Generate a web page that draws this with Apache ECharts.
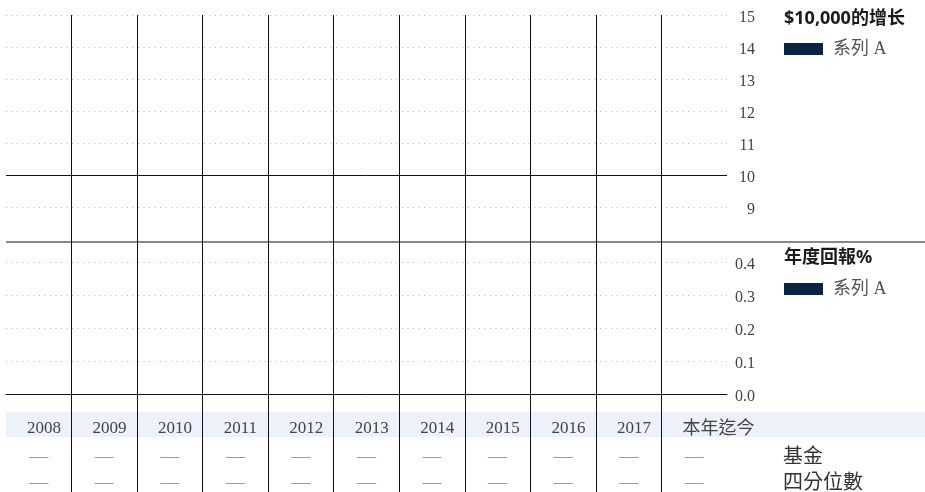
<!DOCTYPE html>
<html>
<head>
<meta charset="utf-8">
<title>$10,000的增长 / 年度回報%</title>
<script src="https://cdn.jsdelivr.net/npm/echarts@6/dist/echarts.min.js"></script>
<style>
  html, body { margin: 0; padding: 0; background: #ffffff; }
  #chart { width: 925px; height: 492px; }
</style>
</head>
<body>
<div id="chart"></div>
<script>
// Column categories shared by both panels and the table below them
const categories = ['2008', '2009', '2010', '2011', '2012', '2013', '2014', '2015', '2016', '2017', '本年迄今'];

// Growth of $10,000 (thousands) — no values reported yet
const growthOf10k = [null, null, null, null, null, null, null, null, null, null, null];

// Annual return — no values reported yet
const annualReturns = [null, null, null, null, null, null, null, null, null, null, null];

// Table rows under the chart
const fundRow = ['—', '—', '—', '—', '—', '—', '—', '—', '—', '—', '—'];
const quartileRow = ['—', '—', '—', '—', '—', '—', '—', '—', '—', '—', '—'];
const rowTitles = ['基金', '四分位數'];

// Value axis ranges and steps
const growthRange = [8, 15];
const growthStep = 1;
const returnRange = [0, 0.4];
const returnStep = 0.1;

const seriesName = '系列 A';
const panelTitles = ['$10,000的增长', '年度回報%'];

const NAVY = '#0b2446';
const SERIF = '"Liberation Serif", "Noto Sans CJK TC", serif';
const SANS = '"Noto Sans", "Noto Sans CJK SC", sans-serif';
const LABEL_COLOR = '#444';

const PLOT_LEFT = 6;
const PLOT_RIGHT = 198;

const chart = echarts.init(document.getElementById('chart'), null, { renderer: 'canvas' });

const dottedSplit = {
  show: true,
  showMinLine: false,
  lineStyle: { color: '#b8b8b8', type: [1, 4.5], width: 1 }
};

// tick numbers sit a little below their gridline
const valueLabel = {
  color: LABEL_COLOR,
  fontFamily: SERIF,
  fontSize: 16,
  align: 'right',
  verticalAlign: 'top',
  lineHeight: 6,
  margin: 28
};

function hiddenCategoryAxis(gridIndex, extra) {
  return Object.assign({
    type: 'category',
    gridIndex: gridIndex,
    data: categories,
    boundaryGap: true,
    axisLine: { show: false },
    axisTick: { show: false },
    axisLabel: { show: false },
    splitLine: { show: false }
  }, extra || {});
}

const legendText = { fontFamily: SERIF, fontSize: 18, color: '#555', padding: [0, 0, 0, 5] };

const option = {
  animation: false,
  backgroundColor: '#ffffff',
  title: [
    {
      text: panelTitles[0], left: 784, top: 10, padding: 0,
      textStyle: { fontFamily: SANS, fontSize: 18, fontWeight: 'bold', color: '#1a1a1a' }
    },
    {
      text: panelTitles[1], left: 784, top: 249, padding: 0,
      textStyle: { fontFamily: SANS, fontSize: 18, fontWeight: 'bold', color: '#1a1a1a' }
    },
    {
      text: rowTitles[0], left: 783, top: 448, padding: 0,
      textStyle: { fontFamily: SERIF, fontSize: 20, fontWeight: 'normal', color: '#333' }
    },
    {
      text: rowTitles[1], left: 783, top: 474, padding: 0,
      textStyle: { fontFamily: SERIF, fontSize: 20, fontWeight: 'normal', color: '#333' }
    }
  ],
  legend: [
    {
      data: [seriesName], left: 784, top: 40, padding: 0,
      icon: 'rect', itemWidth: 39, itemHeight: 12, itemGap: 10,
      textStyle: legendText
    },
    {
      data: [seriesName], left: 784, top: 280, padding: 0,
      icon: 'rect', itemWidth: 39, itemHeight: 12, itemGap: 10,
      textStyle: legendText
    }
  ],
  grid: [
    // growth panel
    { left: PLOT_LEFT, right: PLOT_RIGHT, top: 15, height: 224, containLabel: false, outerBoundsMode: 'none' },
    // annual return panel
    { left: PLOT_LEFT, right: PLOT_RIGHT, top: 262, height: 132, containLabel: false, outerBoundsMode: 'none' },
    // column dividers running through both panels and the table
    { left: PLOT_LEFT, right: PLOT_RIGHT, top: 15, bottom: 0, containLabel: false, outerBoundsMode: 'none' }
  ],
  xAxis: [
    hiddenCategoryAxis(0),
    // return panel baseline + year row
    hiddenCategoryAxis(1, {
      axisLine: { show: true, onZero: false, lineStyle: { color: '#111', width: 1 } },
      axisLabel: {
        show: true,
        interval: 0,
        margin: 26,
        align: 'center',
        formatter: function (v) {
          return /^\d+$/.test(v) ? '{y|' + v + '}' : '{c|' + v + '}';
        },
        rich: {
          y: { width: 23.5, align: 'left', fontFamily: SERIF, fontSize: 17, color: LABEL_COLOR },
          c: { width: 23.5, align: 'left', fontFamily: SERIF, fontSize: 18, color: LABEL_COLOR }
        }
      }
    }),
    // fund row
    hiddenCategoryAxis(1, {
      position: 'bottom',
      axisLabel: {
        show: true, interval: 0, margin: 54,
        fontFamily: SERIF, fontSize: 19, color: '#999999',
        formatter: function (v, i) { return fundRow[i]; }
      }
    }),
    // quartile row
    hiddenCategoryAxis(1, {
      position: 'bottom',
      axisLabel: {
        show: true, interval: 0, margin: 80,
        fontFamily: SERIF, fontSize: 19, color: '#999999',
        formatter: function (v, i) { return quartileRow[i]; }
      }
    }),
    // column dividers
    hiddenCategoryAxis(2, {
      splitLine: {
        show: true, showMinLine: false, showMaxLine: false, interval: 0,
        lineStyle: { color: '#111', width: 1 }
      }
    })
  ],
  yAxis: [
    {
      type: 'value', gridIndex: 0, position: 'right',
      min: growthRange[0], max: growthRange[1], interval: growthStep,
      axisLine: { show: false }, axisTick: { show: false },
      axisLabel: Object.assign({ showMinLabel: false }, valueLabel),
      splitLine: dottedSplit
    },
    {
      type: 'value', gridIndex: 1, position: 'right',
      min: returnRange[0], max: returnRange[1], interval: returnStep,
      axisLine: { show: false }, axisTick: { show: false },
      axisLabel: Object.assign({ formatter: function (v) { return v.toFixed(1); } }, valueLabel),
      splitLine: dottedSplit
    },
    {
      type: 'value', gridIndex: 2, show: false, min: 0, max: 1
    }
  ],
  series: [
    {
      name: seriesName,
      type: 'line',
      xAxisIndex: 0, yAxisIndex: 0,
      data: growthOf10k,
      itemStyle: { color: NAVY },
      lineStyle: { color: NAVY, width: 2 },
      showSymbol: false,
      markLine: {
        silent: true,
        symbol: ['none', 'none'],
        label: { show: false },
        lineStyle: { color: '#111', type: 'solid', width: 1 },
        data: [{ yAxis: 10 }]
      }
    },
    {
      name: seriesName,
      type: 'bar',
      xAxisIndex: 1, yAxisIndex: 1,
      data: annualReturns,
      itemStyle: { color: NAVY }
    }
  ],
  graphic: [
    {
      type: 'rect', z: -10, silent: true,
      shape: { x: PLOT_LEFT, y: 412, width: 925 - PLOT_LEFT, height: 25 },
      style: { fill: '#edf1f9' }
    },
    {
      type: 'line', z: 10, silent: true,
      shape: { x1: PLOT_LEFT, y1: 242, x2: 925, y2: 242 },
      style: { stroke: '#111', lineWidth: 1 }
    }
  ]
};

chart.setOption(option);
</script>
</body>
</html>
